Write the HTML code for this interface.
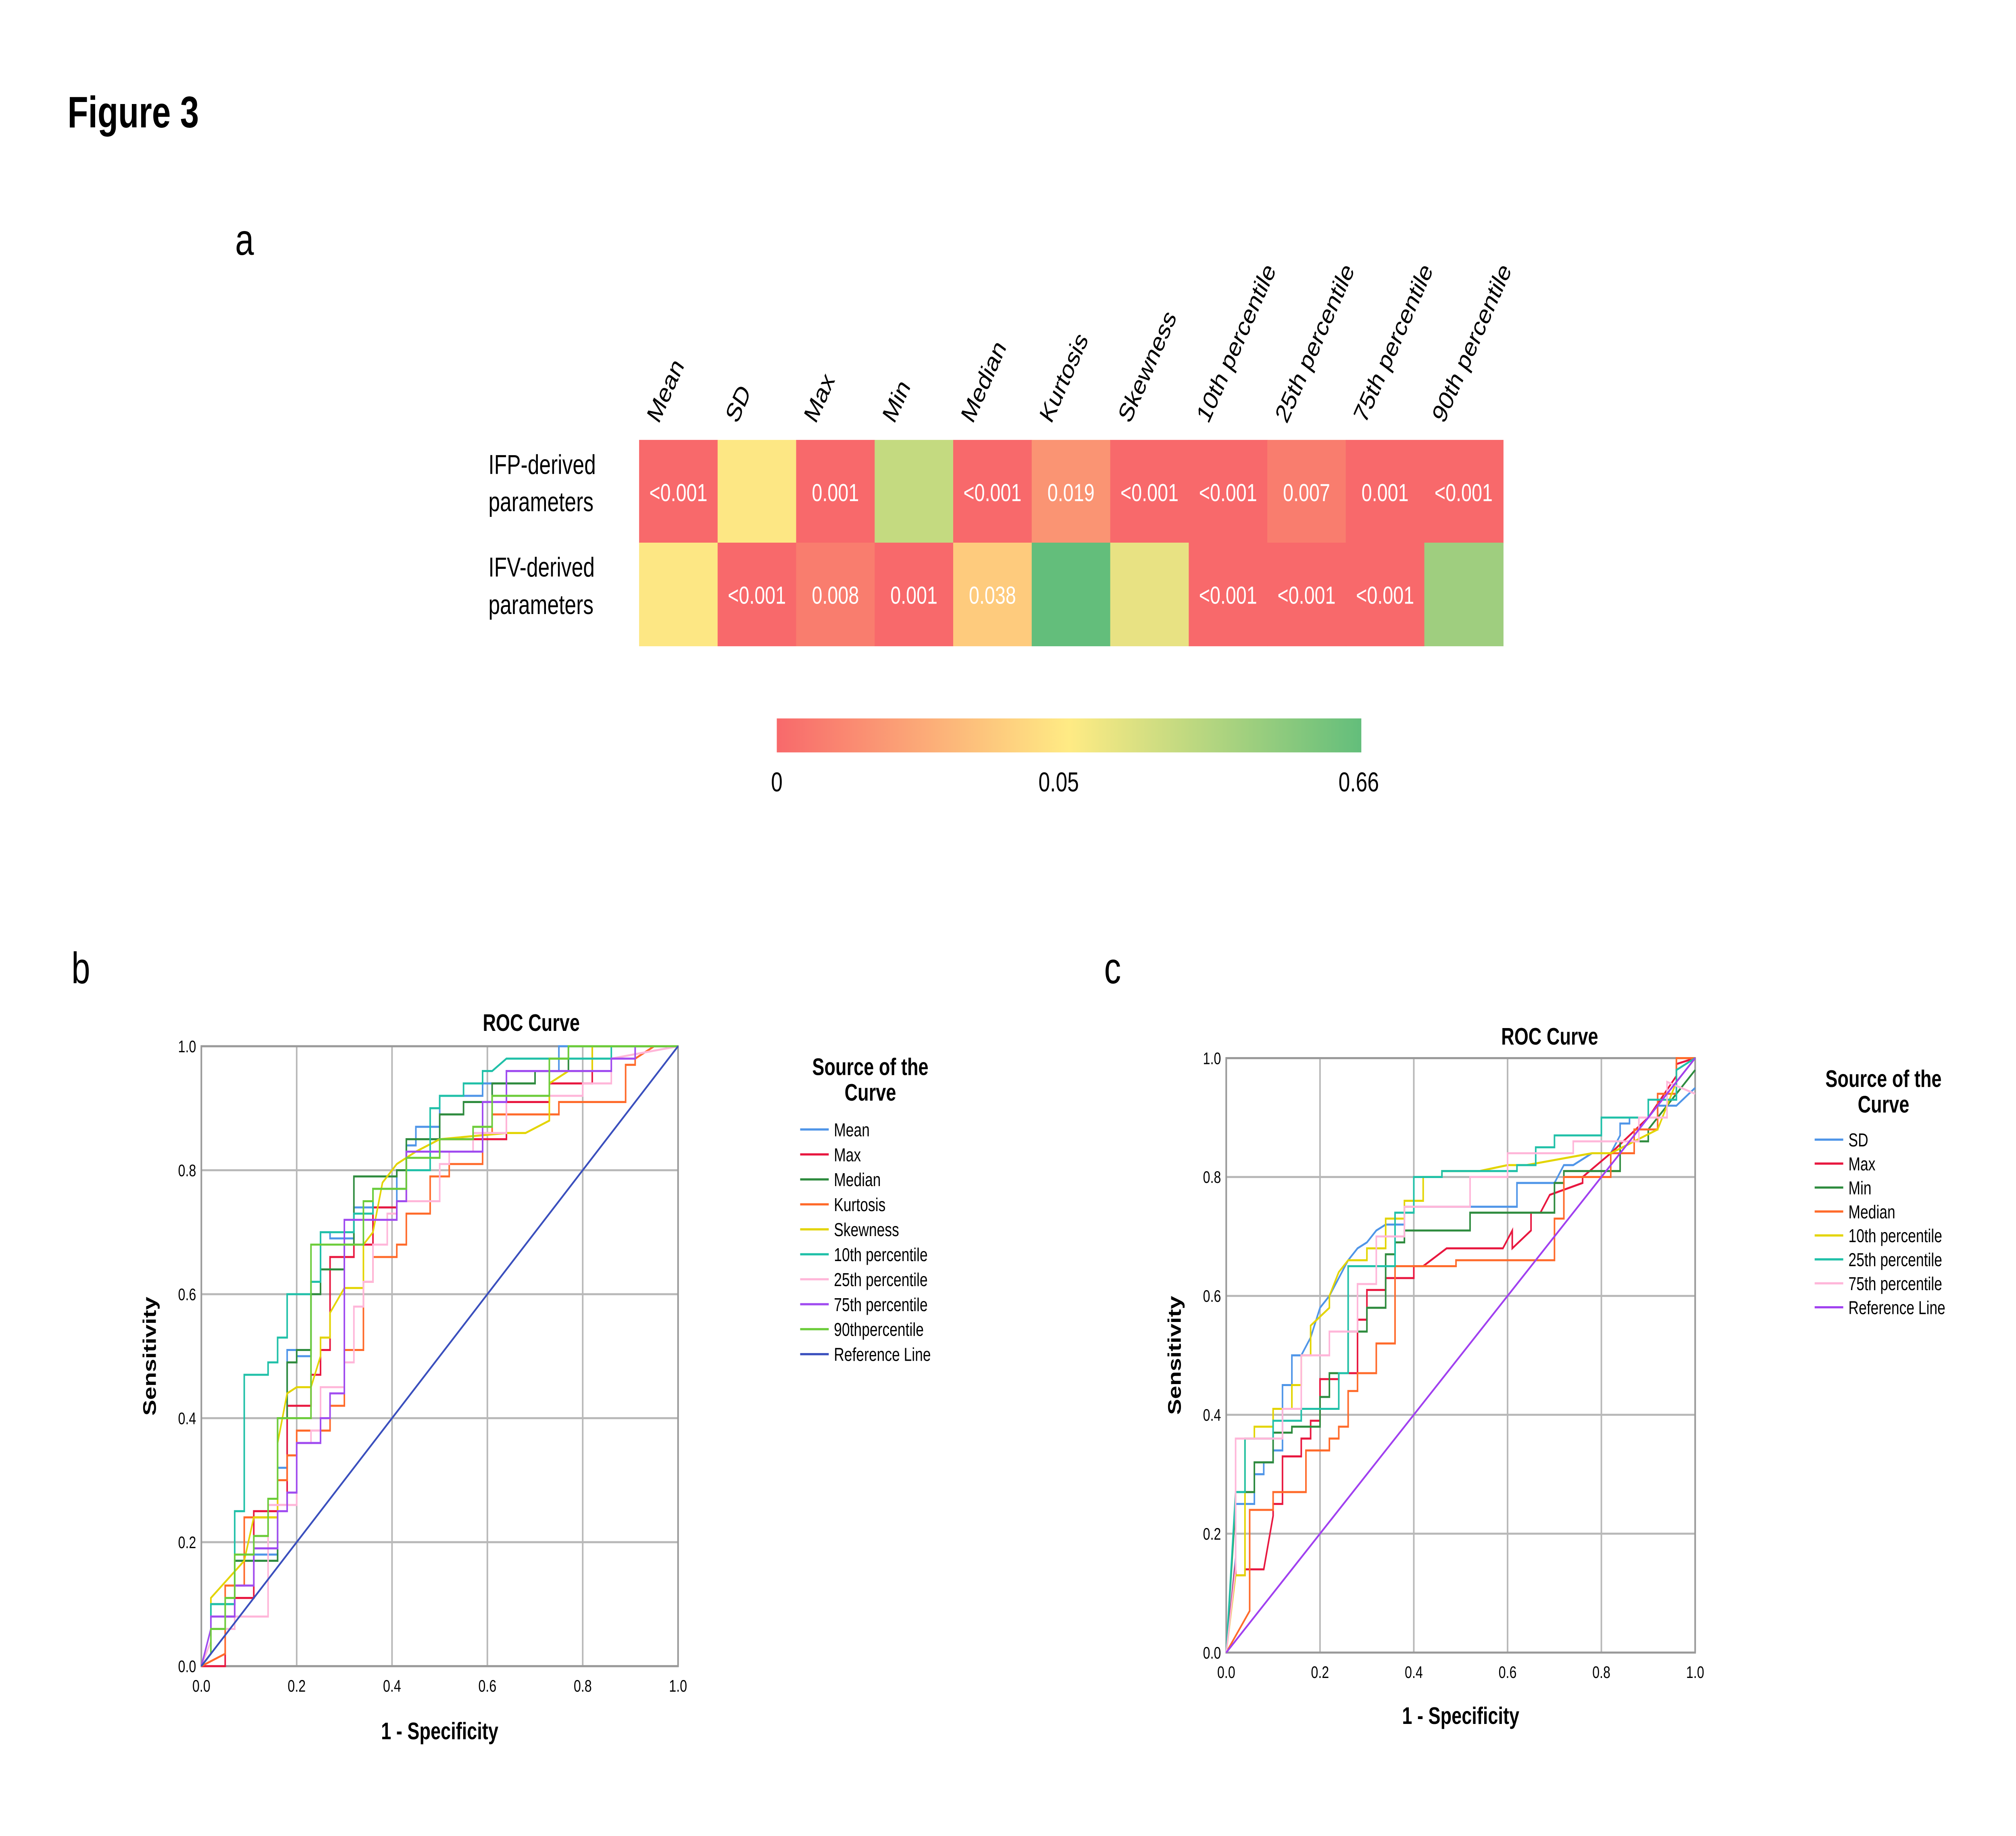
<!DOCTYPE html>
<html><head><meta charset="utf-8"><style>
html,body{margin:0;padding:0;background:#fff;width:100%;height:100%;overflow:hidden}
svg{display:block;position:fixed;left:0;top:0;width:100vw;height:100vh;font-family:"Liberation Sans",Arial,sans-serif}
</style></head><body>
<svg viewBox="0 0 1552 1081" preserveAspectRatio="none" xmlns="http://www.w3.org/2000/svg">
<defs><linearGradient id="cg" x1="0" x2="1" y1="0" y2="0">
<stop offset="0" stop-color="#f8696b"/><stop offset="0.5" stop-color="#ffeb84"/><stop offset="1" stop-color="#63be7b"/></linearGradient></defs>
<rect width="1552" height="1081" fill="#fff"/>
<text x="52" y="75" font-size="26" font-weight="bold">Figure 3</text>
<text x="181" y="150" font-size="26">a</text>
<text x="55" y="579" font-size="26">b</text>
<text x="850" y="579" font-size="26">c</text>
<g id="heat"></g>
<rect x="598" y="423" width="450" height="20" fill="url(#cg)"/>
<text x="598" y="466" font-size="16" text-anchor="middle">0</text>
<text x="815" y="466" font-size="16" text-anchor="middle">0.05</text>
<text x="1046" y="466" font-size="16" text-anchor="middle">0.66</text>
<g id="rocb"></g>
<g id="rocc"></g>
</svg>
<script>
const NS="http://www.w3.org/2000/svg";
function mk(tag,attrs,parent,text){const e=document.createElementNS(NS,tag);for(const k in attrs)e.setAttribute(k,attrs[k]);if(text!==undefined)e.textContent=text;parent.appendChild(e);return e;}

// ---- Heatmap data ----
const heatCols=["Mean","SD","Max","Min","Median","Kurtosis","Skewness","10th percentile","25th percentile","75th percentile","90th percentile"];
const heatRows=["IFP-derived|parameters","IFV-derived|parameters"];
const heatLabels1=["<0.001","","0.001","","<0.001","0.019","<0.001","<0.001","0.007","0.001","<0.001"];
const heatLabels2=["","<0.001","0.008","0.001","0.038","","","<0.001","<0.001","<0.001",""];
const heatColors1=["#f8696b","#fde784","#f8696b","#c4da80","#f8696b","#fa9473","#f8696b","#f8696b","#f97d6e","#f8696b","#f8696b"];
const heatColors2=["#fde784","#f8696b","#f97d6e","#f8696b","#fecb7d","#63be7b","#e8e283","#f8696b","#f8696b","#f8696b","#9fce7f"];
(function(){
 const g=document.getElementById('heat');const x0=492,cw=60.45,y0=259,rh=60.5;
 const labs=[heatLabels1,heatLabels2],cols=[heatColors1,heatColors2];
 heatCols.forEach((c,i)=>{
  const t=mk('text',{x:x0+i*cw+15,y:250,'font-size':16,transform:`rotate(-60 ${x0+i*cw+15} 250)`},g,c);
  
  
 });
 heatRows.forEach((r,j)=>{
  const p=r.split('|');
  const t1=mk('text',{x:376,y:y0+j*rh+20,'font-size':16},g,p[0]);
  
  
  mk('text',{x:376,y:y0+j*rh+42,'font-size':16},g,p[1]);
  heatCols.forEach((c,i)=>{
   const rc=mk('rect',{x:x0+i*cw,y:y0+j*rh,width:cw+0.5,height:rh+0.5,fill:cols[j][i]},g);
   
   
   if(labs[j][i]){const t=mk('text',{x:x0+i*cw+cw/2,y:y0+j*rh+36,'font-size':14.5,fill:'#fff','text-anchor':'middle'},g,labs[j][i]);
    
    }
  });
 });
})();

// ---- ROC b data ----
const bNames=["Mean","Max","Median","Kurtosis","Skewness","10th percentile","25th percentile","75th percentile","90thpercentile","Reference Line"];
const bColors=["#4f95e8","#e8173f","#2e8b3e","#ff6a2a","#e3d400","#20c0a8","#ffb6d9","#a04cf0","#6ccc3a","#3a4fbd"];
const bMeanX=[0,0.02,0.02,0.07,0.07,0.09,0.09,0.16,0.16,0.18,0.18,0.2,0.2,0.23,0.23,0.25,0.25,0.27,0.27,0.32,0.32,0.41,0.41,0.43,0.43,0.45,0.45,0.5,0.5,0.59,0.59,0.64,0.64,0.75,0.75,1];
const bMeanY=[0,0.02,0.1,0.1,0.17,0.17,0.18,0.18,0.32,0.32,0.51,0.51,0.5,0.5,0.62,0.62,0.7,0.7,0.69,0.69,0.74,0.74,0.8,0.8,0.84,0.84,0.87,0.87,0.92,0.92,0.94,0.94,0.96,0.96,1,1];
const bMaxX=[0,0.05,0.05,0.07,0.07,0.11,0.11,0.16,0.16,0.18,0.18,0.23,0.23,0.25,0.25,0.27,0.27,0.32,0.32,0.36,0.36,0.41,0.41,0.43,0.43,0.5,0.5,0.64,0.64,0.73,0.73,0.82,0.82,1];
const bMaxY=[0,0,0.08,0.08,0.11,0.11,0.25,0.25,0.26,0.26,0.42,0.42,0.47,0.47,0.51,0.51,0.66,0.66,0.68,0.68,0.74,0.74,0.75,0.75,0.83,0.83,0.85,0.85,0.91,0.91,0.94,0.94,1,1];
const bMedX=[0,0.02,0.02,0.07,0.07,0.16,0.16,0.18,0.18,0.2,0.2,0.23,0.23,0.25,0.25,0.3,0.3,0.32,0.32,0.41,0.41,0.43,0.43,0.5,0.5,0.55,0.55,0.61,0.61,0.7,0.7,0.77,0.77,1];
const bMedY=[0,0.02,0.1,0.1,0.17,0.17,0.4,0.4,0.49,0.49,0.51,0.51,0.6,0.6,0.64,0.64,0.68,0.68,0.79,0.79,0.8,0.8,0.85,0.85,0.89,0.89,0.91,0.91,0.94,0.94,0.96,0.96,1,1];
const bKurX=[0,0.05,0.05,0.09,0.09,0.16,0.16,0.18,0.18,0.2,0.2,0.27,0.27,0.3,0.3,0.34,0.34,0.36,0.36,0.41,0.41,0.43,0.43,0.48,0.48,0.52,0.52,0.59,0.59,0.61,0.61,0.75,0.75,0.89,0.89,0.91,0.91,0.95,1];
const bKurY=[0,0.02,0.13,0.13,0.24,0.24,0.3,0.3,0.34,0.34,0.38,0.38,0.42,0.42,0.51,0.51,0.62,0.62,0.66,0.66,0.68,0.68,0.73,0.73,0.79,0.79,0.81,0.81,0.86,0.86,0.89,0.89,0.91,0.91,0.97,0.97,0.98,1,1];
const bSkeX=[0,0.02,0.02,0.09,0.11,0.16,0.16,0.18,0.2,0.23,0.25,0.25,0.27,0.27,0.3,0.34,0.34,0.36,0.38,0.41,0.45,0.5,0.64,0.68,0.73,0.73,0.77,0.82,0.82,1];
const bSkeY=[0,0.02,0.11,0.17,0.24,0.24,0.36,0.44,0.45,0.45,0.5,0.53,0.53,0.57,0.61,0.61,0.68,0.7,0.78,0.81,0.83,0.85,0.86,0.86,0.88,0.94,0.96,0.96,1,1];
const bTenX=[0,0.02,0.02,0.07,0.07,0.09,0.09,0.14,0.14,0.16,0.16,0.18,0.18,0.23,0.23,0.25,0.25,0.32,0.32,0.36,0.36,0.43,0.43,0.48,0.48,0.5,0.5,0.55,0.55,0.59,0.59,0.61,0.64,0.86,0.86,1];
const bTenY=[0,0.02,0.1,0.1,0.25,0.25,0.47,0.47,0.49,0.49,0.53,0.53,0.6,0.6,0.62,0.62,0.7,0.7,0.73,0.73,0.77,0.77,0.8,0.8,0.9,0.9,0.92,0.92,0.94,0.94,0.96,0.96,0.98,0.98,1,1];
const bP25X=[0,0.02,0.02,0.07,0.07,0.14,0.14,0.2,0.2,0.23,0.23,0.25,0.25,0.3,0.3,0.32,0.32,0.34,0.34,0.36,0.36,0.39,0.39,0.41,0.41,0.5,0.5,0.52,0.52,0.57,0.57,0.64,0.64,0.8,0.8,0.86,0.86,1];
const bP25Y=[0,0.04,0.06,0.06,0.08,0.08,0.26,0.26,0.36,0.36,0.38,0.38,0.45,0.45,0.49,0.49,0.58,0.58,0.62,0.62,0.68,0.68,0.73,0.73,0.75,0.75,0.81,0.81,0.83,0.83,0.86,0.86,0.92,0.92,0.94,0.94,0.98,1];
const bP75X=[0,0.02,0.02,0.07,0.07,0.11,0.11,0.16,0.16,0.18,0.18,0.2,0.2,0.25,0.25,0.27,0.27,0.3,0.3,0.41,0.41,0.43,0.43,0.59,0.59,0.64,0.64,0.86,0.86,0.91,0.91,1];
const bP75Y=[0,0.06,0.08,0.08,0.13,0.13,0.19,0.19,0.25,0.25,0.28,0.28,0.36,0.36,0.4,0.4,0.44,0.44,0.72,0.72,0.75,0.75,0.83,0.83,0.91,0.91,0.96,0.96,0.98,0.98,1,1];
const bP90X=[0,0.02,0.02,0.05,0.05,0.07,0.07,0.11,0.11,0.14,0.14,0.16,0.16,0.2,0.2,0.23,0.23,0.34,0.34,0.36,0.36,0.43,0.43,0.5,0.5,0.57,0.57,0.61,0.61,0.73,0.73,0.77,0.77,1];
const bP90Y=[0,0.02,0.06,0.06,0.11,0.11,0.18,0.18,0.21,0.21,0.27,0.27,0.4,0.4,0.4,0.4,0.68,0.68,0.75,0.75,0.77,0.77,0.82,0.82,0.85,0.85,0.87,0.87,0.92,0.92,0.98,0.98,1,1];
const bRefX=[0,1];
const bRefY=[0,1];
const bX=[bMeanX,bMaxX,bMedX,bKurX,bSkeX,bTenX,bP25X,bP75X,bP90X,bRefX];
const bY=[bMeanY,bMaxY,bMedY,bKurY,bSkeY,bTenY,bP25Y,bP75Y,bP90Y,bRefY];

// ---- ROC c data ----
const cNames=["SD","Max","Min","Median","10th percentile","25th percentile","75th percentile","Reference Line"];
const cColors=["#4f95e8","#e8173f","#2e8b3e","#ff6a2a","#e3d400","#20c0a8","#ffb6d9","#a040f0"];
const cSdX=[0,0.02,0.02,0.06,0.06,0.08,0.08,0.1,0.1,0.12,0.12,0.14,0.14,0.16,0.18,0.2,0.22,0.24,0.26,0.28,0.3,0.32,0.34,0.38,0.38,0.62,0.62,0.7,0.72,0.74,0.78,0.82,0.84,0.84,0.86,0.86,0.92,0.92,0.96,1];
const cSdY=[0,0.16,0.25,0.25,0.3,0.3,0.32,0.32,0.34,0.34,0.45,0.45,0.5,0.5,0.53,0.58,0.6,0.63,0.66,0.68,0.69,0.71,0.72,0.72,0.75,0.75,0.79,0.79,0.82,0.82,0.84,0.84,0.87,0.89,0.89,0.9,0.9,0.92,0.92,0.95];
const cMaxX=[0,0.02,0.02,0.04,0.04,0.08,0.1,0.1,0.12,0.12,0.16,0.16,0.18,0.18,0.2,0.2,0.24,0.24,0.28,0.28,0.3,0.3,0.34,0.34,0.4,0.4,0.42,0.47,0.59,0.61,0.61,0.65,0.65,0.67,0.69,0.76,0.76,0.82,0.9,0.96,0.96,1];
const cMaxY=[0,0.15,0.13,0.13,0.14,0.14,0.23,0.25,0.25,0.33,0.33,0.36,0.36,0.39,0.39,0.46,0.46,0.47,0.47,0.56,0.56,0.61,0.61,0.63,0.63,0.65,0.65,0.68,0.68,0.71,0.68,0.71,0.74,0.74,0.77,0.79,0.8,0.84,0.9,0.97,0.99,1];
const cMinX=[0,0.02,0.02,0.06,0.06,0.1,0.1,0.14,0.14,0.2,0.2,0.22,0.22,0.26,0.26,0.3,0.3,0.34,0.34,0.36,0.36,0.38,0.38,0.52,0.52,0.7,0.7,0.72,0.72,0.84,0.84,0.9,0.9,1];
const cMinY=[0,0.25,0.27,0.27,0.32,0.32,0.37,0.37,0.38,0.38,0.43,0.43,0.47,0.47,0.54,0.54,0.58,0.58,0.67,0.67,0.69,0.69,0.71,0.71,0.74,0.74,0.79,0.79,0.81,0.81,0.86,0.86,0.88,0.98];
const cMedX=[0,0.05,0.05,0.1,0.1,0.17,0.17,0.22,0.22,0.24,0.24,0.26,0.26,0.28,0.28,0.32,0.32,0.36,0.36,0.49,0.49,0.7,0.7,0.72,0.72,0.82,0.82,0.87,0.87,0.92,0.92,0.96,0.96,1];
const cMedY=[0,0.07,0.24,0.24,0.27,0.27,0.34,0.34,0.36,0.36,0.38,0.38,0.44,0.44,0.47,0.47,0.52,0.52,0.65,0.65,0.66,0.66,0.73,0.73,0.8,0.8,0.84,0.84,0.88,0.88,0.94,0.94,1,1];
const cTenX=[0,0.02,0.04,0.04,0.06,0.06,0.1,0.1,0.14,0.14,0.16,0.16,0.18,0.18,0.22,0.22,0.24,0.26,0.3,0.3,0.34,0.34,0.38,0.38,0.42,0.42,0.46,0.46,0.54,0.6,0.64,0.78,0.82,0.92,0.96,1];
const cTenY=[0,0.13,0.13,0.36,0.36,0.38,0.38,0.41,0.41,0.45,0.45,0.5,0.5,0.55,0.58,0.6,0.64,0.66,0.66,0.68,0.68,0.73,0.73,0.76,0.76,0.8,0.8,0.81,0.81,0.82,0.82,0.84,0.84,0.88,0.96,1];
const cP25X=[0,0.02,0.02,0.04,0.04,0.1,0.1,0.16,0.16,0.24,0.24,0.26,0.26,0.36,0.36,0.4,0.4,0.46,0.46,0.62,0.62,0.66,0.66,0.7,0.7,0.8,0.8,0.9,0.9,0.96,0.96,1];
const cP25Y=[0,0.27,0.27,0.27,0.36,0.36,0.39,0.39,0.41,0.41,0.47,0.47,0.65,0.65,0.74,0.74,0.8,0.8,0.81,0.81,0.82,0.82,0.85,0.85,0.87,0.87,0.9,0.9,0.93,0.93,0.98,1];
const cP75X=[0,0.02,0.02,0.04,0.04,0.12,0.12,0.16,0.16,0.22,0.22,0.28,0.28,0.32,0.32,0.38,0.38,0.52,0.52,0.6,0.6,0.74,0.74,0.88,0.88,0.94,0.94,1];
const cP75Y=[0,0.14,0.36,0.36,0.36,0.36,0.41,0.41,0.5,0.5,0.54,0.54,0.62,0.62,0.7,0.7,0.75,0.75,0.8,0.8,0.84,0.84,0.86,0.86,0.9,0.9,0.96,0.94];
const cRefX=[0,1];
const cRefY=[0,1];
const cX=[cSdX,cMaxX,cMinX,cMedX,cTenX,cP25X,cP75X,cRefX];
const cY=[cSdY,cMaxY,cMinY,cMedY,cTenY,cP25Y,cP75Y,cRefY];

const ticks=[0,0.2,0.4,0.6,0.8,1.0];
const tickLabels=["0.0","0.2","0.4","0.6","0.8","1.0"];

function roc(gid,cfg,xs,ys,names,colors,prefix){
 const g=document.getElementById(gid);
 const sx=v=>cfg.x0+v*(cfg.x1-cfg.x0), sy=v=>cfg.y0-v*(cfg.y0-cfg.y1);
 ticks.forEach((t,i)=>{
  mk('line',{x1:sx(t),x2:sx(t),y1:sy(0),y2:sy(1),stroke:'#b8b8b8','stroke-width':1.2},g);
  mk('line',{x1:sx(0),x2:sx(1),y1:sy(t),y2:sy(t),stroke:'#b8b8b8','stroke-width':1.2},g);
  const xl=mk('text',{x:sx(t),y:sy(0)+15,'font-size':10,'text-anchor':'middle'},g,tickLabels[i]);
  
  
  const yl=mk('text',{x:sx(0)-4,y:sy(t)+3.5,'font-size':10,'text-anchor':'end'},g,tickLabels[i]);
  
  
 });
 mk('rect',{x:sx(0),y:sy(1),width:sx(1)-sx(0),height:sy(0)-sy(1),fill:'none',stroke:'#999','stroke-width':1.2},g);
 xs.forEach((xa,k)=>{
  const pts=xa.map((v,i)=>sx(v).toFixed(2)+','+sy(ys[k][i]).toFixed(2)).join(' ');
  const pl=mk('polyline',{points:pts,fill:'none',stroke:colors[k],'stroke-width':1.2},g);
  
  
 });
 const tt=mk('text',{x:cfg.tx,y:cfg.ty,'font-size':14,'font-weight':'bold','text-anchor':'middle'},g,'ROC Curve');
 
 
 const xt=mk('text',{x:(sx(0)+sx(1))/2,y:cfg.xty,'font-size':14,'font-weight':'bold','text-anchor':'middle'},g,'1 - Specificity');
 
 
 const yt=mk('text',{x:cfg.ytx,y:(sy(0)+sy(1))/2,'font-size':14,'font-weight':'bold','text-anchor':'middle',transform:`rotate(-90 ${cfg.ytx} ${(sy(0)+sy(1))/2})`},g,'Sensitivity');
 
 
 const lt=mk('text',{x:cfg.lcx,y:cfg.ly,'font-size':14,'font-weight':'bold','text-anchor':'middle'},g,'Source of the');
 
 
 mk('text',{x:cfg.lcx,y:cfg.ly+15,'font-size':14,'font-weight':'bold','text-anchor':'middle'},g,'Curve');
 names.forEach((n,k)=>{
  const y=cfg.le0+k*cfg.ls;
  const ln=mk('line',{x1:cfg.lx,x2:cfg.lx+22,y1:y,y2:y,stroke:colors[k],'stroke-width':1.3},g);
  
  
  const tx=mk('text',{x:cfg.lx+26,y:y+4,'font-size':11},g,n);
  
  
 });
}
roc('rocb',{x0:155,x1:522,y0:981,y1:616,tx:409,ty:607,xty:1024,ytx:120,lcx:670,ly:633,lx:616,le0:665,ls:14.7},bX,bY,bNames,bColors,'b');
roc('rocc',{x0:944,x1:1305,y0:973,y1:623,tx:1193,ty:615,xty:1015,ytx:909,lcx:1450,ly:640,lx:1397,le0:671,ls:14.1},cX,cY,cNames,cColors,'c');
</script>
</body></html>
